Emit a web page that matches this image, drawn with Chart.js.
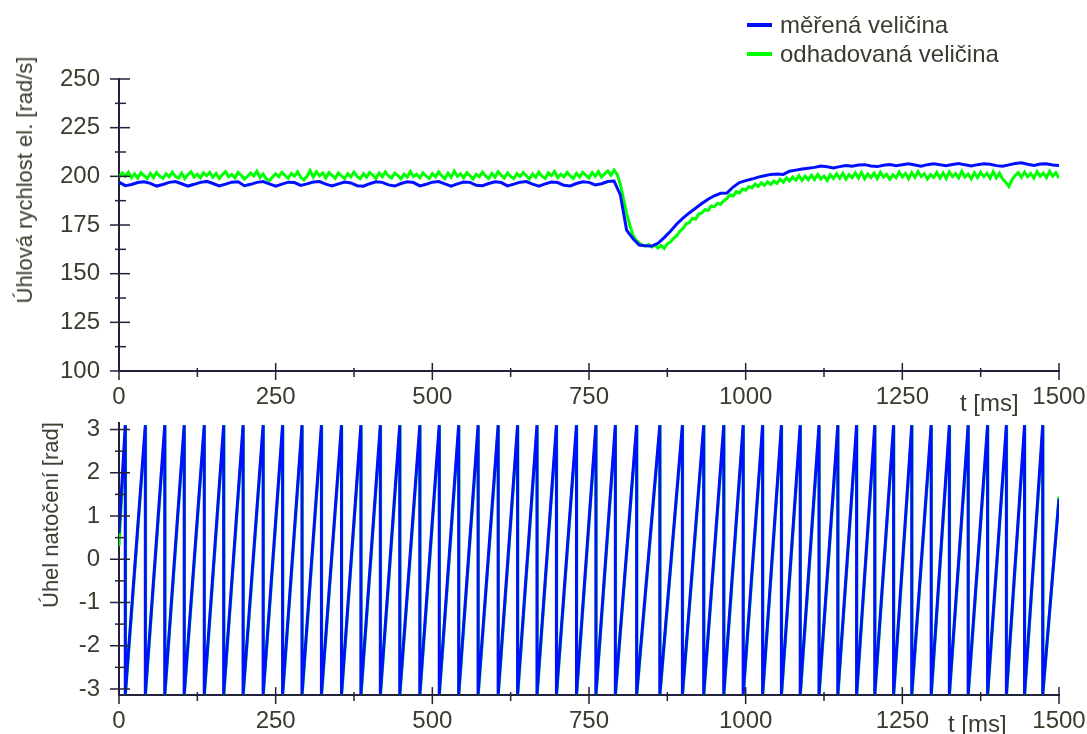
<!DOCTYPE html>
<html>
<head>
<meta charset="utf-8">
<script src="https://cdn.jsdelivr.net/npm/chart.js@4.4.1/dist/chart.umd.min.js"></script>
<style>
    body {
        margin: 0;
        width: 1087px;
        height: 734px;
        overflow: hidden;
        position: relative;
        background: #ffffff;
        font-family: 'Liberation Sans', Arial, sans-serif;
        color: #3b3b2f;
    }
    canvas { position: absolute; left: 0; }
    #speed-chart { top: 0; }
    #angle-chart { top: 410px; }
    .label { position: absolute; font-size: 24px; white-space: nowrap; line-height: 1; }
    .y-title {
        position: absolute;
        font-size: 22px;
        white-space: nowrap;
        line-height: 1;
        transform: translate(-50%, -50%) rotate(-90deg);
    }
    .legend-item { position: absolute; left: 747px; font-size: 24px; line-height: 1; white-space: nowrap; }
    .legend-item span { display: inline-block; width: 25px; height: 4px; margin-right: 8px; vertical-align: middle; position: relative; top: -2px; }
</style>
</head>
<body>
<canvas id="speed-chart" width="1087" height="410"></canvas>
<canvas id="angle-chart" width="1087" height="324"></canvas>
<div id="legend"></div>
<div class="label" style="left:960px; top:391px;">t [ms]</div>
<div class="label" style="left:948px; top:712px;">t [ms]</div>
<div class="y-title" style="left:25px; top:180px;">Úhlová rychlost el. [rad/s]</div>
<div class="y-title" style="left:51px; top:515px;">Úhel natočení [rad]</div>

<script>
const seriesNames = ['měřená veličina', 'odhadovaná veličina'];
const seriesColors = ['#0010ff', '#00ff00'];

// time axis [ms]
const timeTicks = [0, 250, 500, 750, 1000, 1250, 1500];
const timeMinorTicks = [125, 375, 625, 875, 1125, 1375];

// speed axis [rad/s]
const speedTicks = [100, 125, 150, 175, 200, 225, 250];
const speedMinorTicks = [112.5, 137.5, 162.5, 187.5, 212.5, 237.5];

// angle axis [rad]
const angleTicks = [-3, -2, -1, 0, 1, 2, 3];
const angleMinorTicks = [-2.5, -1.5, -0.5, 0.5, 1.5, 2.5];

// measured speed, one sample every 10 ms
const measuredStep = 10;
const measuredSpeed = [
    197.0, 195.2, 195.8, 196.8, 197.2, 196.4, 195.0, 195.8, 196.9, 197.3,
    196.2, 195.0, 195.9, 196.9, 197.4, 196.3, 195.1, 196.0, 197.0, 197.2,
    195.2, 195.9, 196.9, 197.3, 196.1, 195.0, 196.0, 197.0, 196.8, 195.3,
    196.1, 197.1, 197.3, 196.0, 195.1, 196.1, 197.1, 196.6, 195.2, 194.9,
    196.2, 197.2, 196.9, 195.6, 195.0, 196.3, 197.2, 196.8, 195.1, 195.9,
    197.0, 197.3, 196.1, 195.0, 196.1, 197.1, 196.9, 195.4, 195.2, 196.3,
    197.2, 196.8, 195.1, 196.0, 197.0, 197.3, 196.0, 195.0, 196.1, 197.1,
    196.8, 195.4, 195.1, 196.3, 197.2, 196.9, 195.6, 196.2, 197.3, 197.6,
    190.5, 172.4, 168.0, 164.7, 164.4, 164.2, 165.6, 168.5, 171.8, 175.5,
    178.5, 181.2, 183.6, 186.0, 188.2, 190.0, 191.3, 191.4, 194.5, 196.8,
    197.8, 198.6, 199.6, 200.3, 201.0, 201.2, 201.0, 202.6, 203.2, 203.8,
    204.2, 204.6, 205.3, 204.9, 204.3, 205.0, 205.6, 205.2, 205.8, 206.0,
    205.3, 205.0, 205.7, 206.1, 205.5, 206.0, 206.4, 205.8, 205.2, 206.0,
    206.5, 205.9, 205.4, 206.1, 206.6, 205.9, 205.3, 206.0, 206.5, 206.2,
    205.5, 205.2, 205.9, 206.6, 207.0, 206.2, 205.6, 206.3, 206.5, 205.8,
    205.5
];

// estimated speed, one sample every 5 ms
const estimatedStep = 5;
const estimatedSpeed = [
    199.5, 201.8, 200.0, 202.1, 199.3, 201.2, 199.0, 201.9, 200.4, 198.8,
    201.5, 199.4, 202.0, 200.1, 198.9, 201.3, 199.7, 202.2, 200.0, 199.1,
    201.6, 198.8, 200.9, 202.3, 199.6, 201.1, 199.2, 201.8, 200.3, 202.0,
    199.5, 201.4, 198.9, 200.8, 202.4, 199.8, 201.0, 199.3, 202.0, 200.5,
    198.6, 199.9, 201.7, 200.2, 202.6, 199.4, 201.2, 198.7, 197.8, 199.6,
    201.3, 199.8, 202.1, 200.4, 199.0, 201.5, 200.1, 202.3, 199.5, 198.2,
    200.0, 203.0, 199.6, 202.4, 200.3, 201.7, 199.2, 201.9, 200.5, 199.0,
    201.8, 200.2, 198.9, 201.4, 199.7, 202.2, 200.0, 198.8, 201.3, 199.5,
    202.0, 200.6, 198.9, 201.7, 199.8, 202.3, 200.1, 199.2, 201.6, 200.4,
    198.7, 201.2, 199.6, 202.5, 199.9, 201.1, 199.3, 201.8, 200.2, 198.9,
    201.4, 199.7, 202.2, 200.3, 198.8, 201.6, 199.5, 202.7, 200.0, 201.3,
    199.2, 201.9, 200.4, 198.6, 201.0, 199.8, 202.1, 200.2, 198.9, 201.5,
    199.6, 202.3, 200.5, 199.1, 201.7, 200.0, 198.8, 201.4, 199.9, 202.0,
    200.3, 198.7, 201.2, 199.5, 202.2, 200.1, 199.0, 201.8, 200.4, 202.5,
    199.3, 201.1, 199.8, 202.0, 200.2, 198.9, 201.6, 199.7, 202.1, 200.5,
    199.2, 201.9, 200.0, 202.4, 199.6, 201.3, 202.8, 200.6, 203.3, 201.0,
    196.0, 188.5, 181.0, 175.0, 170.0, 167.2, 165.8, 164.6, 164.2, 165.0,
    163.6, 164.8, 163.2, 164.5, 163.0, 165.3, 166.4, 168.1, 169.5, 171.8,
    173.2, 175.6, 176.2, 178.5, 178.0, 180.6, 181.2, 182.9, 182.4, 184.8,
    184.3, 186.2, 185.6, 187.4, 188.6, 190.5, 189.9, 192.2, 191.4, 193.5,
    192.9, 194.8, 194.1, 196.0, 194.8, 196.7, 195.3, 197.2, 195.8, 197.6,
    196.4, 198.5, 197.0, 199.2, 197.6, 199.6, 198.0, 200.3, 197.9, 200.1,
    198.2, 200.6, 198.4, 201.0, 198.7, 200.2, 197.8, 200.8, 198.9, 201.3,
    199.0, 201.6, 198.6, 200.9, 199.3, 201.8, 199.1, 202.0, 198.8, 201.2,
    199.4, 201.7, 198.9, 202.1, 199.6, 201.0, 198.5, 200.8, 199.2, 202.2,
    199.7, 201.5, 198.8, 201.9, 199.5, 202.4, 199.9, 201.3, 198.6, 200.9,
    199.4, 202.0, 199.1, 201.7, 198.9, 202.3, 199.8, 201.4, 199.2, 202.6,
    199.6, 201.2, 198.7, 201.8, 199.3, 202.1, 199.9, 201.5, 199.0, 202.4,
    199.2, 201.6, 198.6, 197.0, 194.8, 198.2, 200.4, 201.9, 199.5, 202.2,
    199.8, 201.4, 199.1, 202.5, 200.0, 201.7, 199.4, 202.6, 200.1, 201.8,
    199.0
];

// angle: times [ms] where the angle wraps from +pi to -pi
const measuredWraps = [
    10, 42, 73, 104, 136, 167, 198, 230, 261, 292, 323, 355, 386, 417, 448, 480,
    511, 542, 573, 605, 636, 667, 698, 730, 761, 792, 826, 863, 899, 933, 965, 996,
    1027, 1057, 1087, 1117, 1147, 1177, 1206, 1236, 1265, 1296, 1325, 1355, 1386, 1416, 1445, 1474
];
const estimatedWraps = [
    10.5, 42.5, 73.5, 104.5, 136.5, 167.5, 198.5, 230.5, 261.5, 292.5, 323.5, 355.5, 386.5, 417.5, 448.5, 480.5,
    511.5, 542.5, 573.5, 605.5, 636.5, 667.5, 698.5, 730.5, 761.5, 792.5, 826.5, 863.5, 899.5, 933.5, 965.5, 996.5,
    1027.5, 1057.5, 1087.5, 1117.5, 1147.5, 1177.5, 1206.5, 1236.5, 1265.5, 1296.5, 1325.5, 1355.5, 1386.5, 1416.5, 1445.5, 1474.5
];
const angleStart = [0.6, 0.3];   // angle at t = 0
const angleEnd = [1.4, 1.45];    // angle at t = 1500
const anglePeak = 3.1;
const angleTrough = -3.12;

const axisColor = '#22223a';
const textColor = '#3b3b2f';
const fontFamily = "'Liberation Sans', Arial, sans-serif";

// legend as html
const legend = document.getElementById('legend');
seriesNames.forEach((name, i) => {
    const item = document.createElement('div');
    item.className = 'legend-item';
    item.style.top = (13 + i * 29) + 'px';
    const swatch = document.createElement('span');
    swatch.style.background = seriesColors[i];
    item.appendChild(swatch);
    item.appendChild(document.createTextNode(name));
    legend.appendChild(item);
});

function sampled(values, step) {
    return values.map((v, i) => ({ x: i * step, y: v }));
}

function sawtooth(wraps, start, end) {
    const pts = [{ x: 0, y: start }];
    wraps.forEach(w => {
        pts.push({ x: w, y: anglePeak });
        pts.push({ x: w, y: angleTrough });
    });
    pts.push({ x: 1500, y: end });
    return pts;
}

function isIn(list, v) {
    return list.some(t => Math.abs(t - v) < 1e-9);
}

// ticks crossing the axis line, long for labelled ticks, short for the others
const crossTicks = {
    id: 'crossTicks',
    afterDraw(chart, args, opts) {
        const ctx = chart.ctx;
        const xs = chart.scales.x;
        const ys = chart.scales.y;
        ctx.save();
        ctx.strokeStyle = axisColor;
        ctx.lineWidth = 1.5;
        xs.ticks.forEach(t => {
            const px = xs.getPixelForValue(t.value);
            const major = isIn(opts.xMajor, t.value);
            ctx.beginPath();
            ctx.moveTo(px, xs.top - (major ? 8 : 3));
            ctx.lineTo(px, xs.top + (major ? 9 : 6));
            ctx.stroke();
        });
        ys.ticks.forEach(t => {
            const py = ys.getPixelForValue(t.value);
            const major = isIn(opts.yMajor, t.value);
            ctx.beginPath();
            ctx.moveTo(ys.right - (major ? 9 : 4), py);
            ctx.lineTo(ys.right + (major ? 11 : 7), py);
            ctx.stroke();
        });
        ctx.restore();
    }
};

function makeChart(canvasId, datasets, yMin, yMax, yMajor, yMinor, padTop, xHeight) {
    const ctx = document.getElementById(canvasId).getContext('2d');
    return new Chart(ctx, {
        type: 'line',
        data: { datasets: datasets },
        plugins: [crossTicks],
        options: {
            responsive: false,
            animation: false,
            devicePixelRatio: 1,
            layout: { padding: { top: padTop, right: 0, left: 0, bottom: 0 } },
            elements: { point: { radius: 0 }, line: { tension: 0, borderWidth: 3 } },
            plugins: {
                legend: { display: false },
                tooltip: { enabled: false },
                crossTicks: { xMajor: timeTicks, yMajor: yMajor }
            },
            scales: {
                x: {
                    type: 'linear',
                    min: 0,
                    max: 1500,
                    afterBuildTicks: s => {
                        s.ticks = timeTicks.concat(timeMinorTicks).sort((a, b) => a - b).map(v => ({ value: v }));
                    },
                    afterFit: s => {
                        s.height = xHeight;
                        s.paddingLeft = 0;
                        s.paddingRight = 28;
                    },
                    grid: { display: false, drawTicks: false },
                    border: { display: true, color: axisColor, width: 2 },
                    ticks: {
                        autoSkip: false,
                        maxRotation: 0,
                        padding: 12,
                        color: textColor,
                        font: { family: fontFamily, size: 24 },
                        callback: v => isIn(timeTicks, v) ? String(v) : ''
                    }
                },
                y: {
                    type: 'linear',
                    min: yMin,
                    max: yMax,
                    afterBuildTicks: s => {
                        s.ticks = yMajor.concat(yMinor).sort((a, b) => a - b).map(v => ({ value: v }));
                    },
                    afterFit: s => {
                        s.width = 119;
                        s.paddingTop = 0;
                        s.paddingBottom = 0;
                    },
                    grid: { display: false, drawTicks: false },
                    border: { display: true, color: axisColor, width: 2 },
                    ticks: {
                        autoSkip: false,
                        padding: 19,
                        color: textColor,
                        font: { family: fontFamily, size: 24 },
                        callback: v => isIn(yMajor, v) ? String(v) : ''
                    }
                }
            }
        }
    });
}

makeChart('speed-chart', [
    { label: seriesNames[0], data: sampled(measuredSpeed, measuredStep), borderColor: seriesColors[0] },
    { label: seriesNames[1], data: sampled(estimatedSpeed, estimatedStep), borderColor: seriesColors[1] }
], 100, 250, speedTicks, speedMinorTicks, 79, 39);

makeChart('angle-chart', [
    { label: seriesNames[0], data: sawtooth(measuredWraps, angleStart[0], angleEnd[0]), borderColor: seriesColors[0] },
    { label: seriesNames[1], data: sawtooth(estimatedWraps, angleStart[1], angleEnd[1]), borderColor: seriesColors[1] }
], -Math.PI, Math.PI, angleTicks, angleMinorTicks, 13.4, 38.9);
</script>
</body>
</html>
